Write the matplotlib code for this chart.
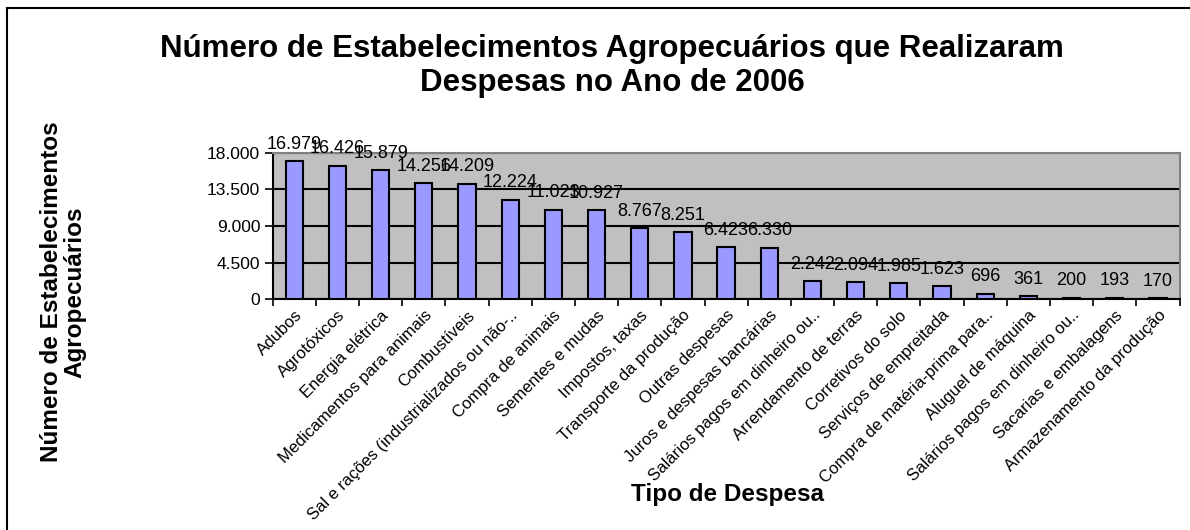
import matplotlib
matplotlib.use("Agg")
import matplotlib.pyplot as plt
from matplotlib.lines import Line2D

plt.rcParams['font.family'] = ['Liberation Sans', 'DejaVu Sans']

# Data
categorias = [
    "Adubos", "Agrotóxicos", "Energia elétrica", "Medicamentos para animais",
    "Combustíveis", "Sal e rações (industrializados ou não-..",
    "Compra de animais", "Sementes e mudas", "Impostos, taxas",
    "Transporte da produção", "Outras despesas", "Juros e despesas bancárias",
    "Salários pagos em dinheiro ou..", "Arrendamento de terras",
    "Corretivos do solo", "Serviços de empreitada",
    "Compra de matéria-prima para..", "Aluguel de máquina",
    "Salários pagos em dinheiro ou..", "Sacarias e embalagens",
    "Armazenamento da produção",
]
valores = [16979, 16426, 15879, 14256, 14209, 12224, 11023, 10927, 8767, 8251,
           6423, 6330, 2242, 2094, 1985, 1623, 696, 361, 200, 193, 170]
yticks = [0, 4500, 9000, 13500, 18000]


def fmt(v):
    return f"{v:,}".replace(",", ".")


fig = plt.figure(figsize=(11.9, 5.3), dpi=100)
ax = fig.add_axes([272.7 / 1190, 1 - 299.3 / 530, 906.8 / 1190, 146.6 / 530])
ax.set_facecolor('#C0C0C0')

x = list(range(len(categorias)))
ax.bar(x, valores, width=0.4, color='#9999FF', edgecolor='black', linewidth=1.5, zorder=3)

for xi, v in zip(x, valores):
    ax.annotate(fmt(v), (xi, v), xytext=(0, 6), textcoords='offset points',
                ha='center', va='bottom', fontsize=13, zorder=4)

ax.set_xlim(-0.5, len(categorias) - 0.5)
ax.set_ylim(0, 18000)
ax.set_yticks(yticks)
ax.set_yticklabels([fmt(t) for t in yticks], fontsize=12.5)
ax.yaxis.grid(True, color='black', linewidth=1.5, zorder=1)

# ticks between categories, labels at category centres
ax.set_xticks([i - 0.5 for i in range(len(categorias) + 1)])
ax.set_xticklabels([])
ax.set_xticks(x, minor=True)
ax.set_xticklabels(categorias, minor=True, rotation=45, ha='right',
                   rotation_mode='anchor', fontsize=12)
ax.tick_params(axis='x', which='minor', length=0, pad=6)
ax.tick_params(axis='x', which='major', length=5, width=1.2, direction='out')
ax.tick_params(axis='y', length=6, width=1.2, direction='out', pad=3)

ax.spines['left'].set_color('black')
ax.spines['bottom'].set_color('black')
ax.spines['left'].set_linewidth(1.5)
ax.spines['bottom'].set_linewidth(1.5)
ax.spines['top'].set_color('#808080')
ax.spines['right'].set_color('#808080')
ax.spines['top'].set_linewidth(1.5)
ax.spines['right'].set_linewidth(1.5)

fig.text(612 / 1190, 1 - 66 / 530,
         "Número de Estabelecimentos Agropecuários que Realizaram\nDespesas no Ano de 2006",
         ha='center', va='center', fontsize=22.5, fontweight='bold', linespacing=1.2)
fig.text(63 / 1190, 1 - 292 / 530, "Número de Estabelecimentos\nAgropecuários",
         rotation=90, ha='center', va='center', fontsize=17.5, fontweight='bold',
         linespacing=1.05)
fig.text(727 / 1190, 1 - 494 / 530, "Tipo de Despesa", ha='center', va='center',
         fontsize=17.5, fontweight='bold')

# outer chart frame
fig.add_artist(Line2D([7 / 1190, 1], [1 - 8 / 530, 1 - 8 / 530], color='black', linewidth=1.5))
fig.add_artist(Line2D([7 / 1190, 7 / 1190], [0, 1 - 8 / 530], color='black', linewidth=1.5))

fig.savefig("out.png", dpi=100)
